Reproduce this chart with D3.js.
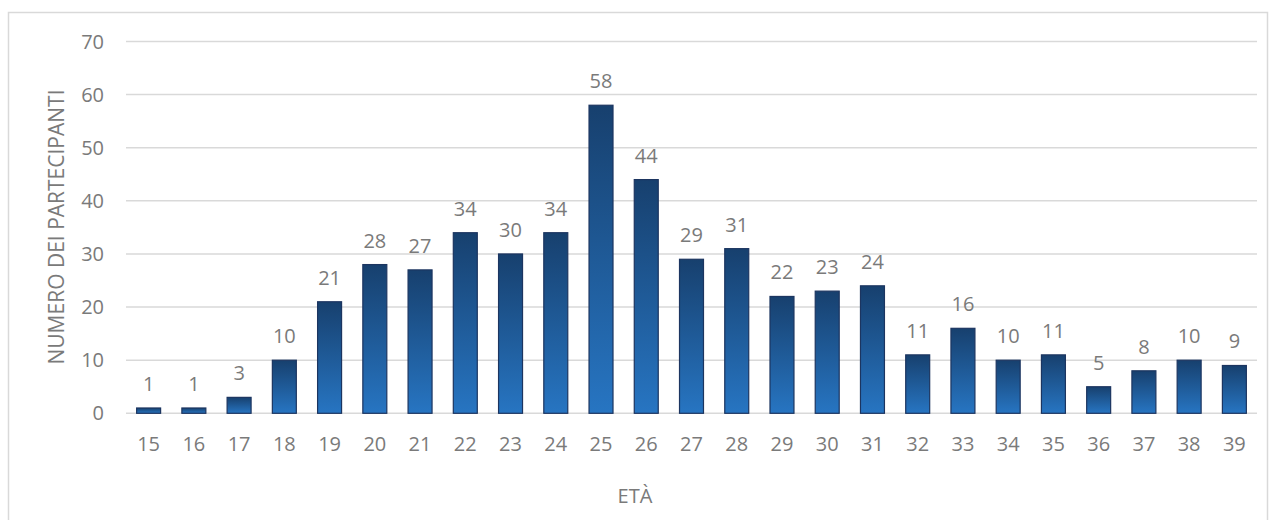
<!DOCTYPE html>
<html>
<head>
<meta charset="utf-8">
<script src="https://cdn.jsdelivr.net/npm/d3@7"></script>
<style>
  body { margin: 0; background: #fff; }
  svg { display: block; font-family: "Open Sans", sans-serif; }
</style>
</head>
<body>
<svg id="chart" width="1276" height="520"></svg>
<script>
// data
const ages = ['15','16','17','18','19','20','21','22','23','24','25','26','27','28','29','30','31','32','33','34','35','36','37','38','39'];
const counts = [1,1,3,10,21,28,27,34,30,34,58,44,29,31,22,23,24,11,16,10,11,5,8,10,9];
const yTicks = [0,10,20,30,40,50,60,70];

const svg = d3.select('#chart');
const textColor = '#7a7a7a';
const gridColor = '#d9d9d9';

// chart frame
svg.append('rect')
  .attr('x', 8.5).attr('y', 12.5).attr('width', 1259).attr('height', 520)
  .style('fill', 'none').style('stroke', gridColor).style('stroke-width', 1.5);

const plot = { left: 126, right: 1257, top: 41.5, bottom: 413.3 };

const x = d3.scaleBand().domain(ages).range([plot.left, plot.right]).paddingInner(0.47).paddingOuter(0.235);
const y = d3.scaleLinear().domain([0, 70]).range([plot.bottom, plot.top]);

// gradient for the bars
const defs = svg.append('defs');
const grad = defs.append('linearGradient').attr('id', 'barGrad')
  .attr('x1', 0).attr('y1', 0).attr('x2', 0).attr('y2', 1);
grad.append('stop').attr('offset', '0%').attr('stop-color', '#17406e');
grad.append('stop').attr('offset', '100%').attr('stop-color', '#2775c2');

// gridlines
svg.append('g').selectAll('line').data(yTicks).join('line')
  .attr('x1', plot.left).attr('x2', plot.right)
  .attr('y1', d => y(d)).attr('y2', d => y(d))
  .style('stroke', gridColor).style('stroke-width', 1.5);

// y axis labels
svg.append('g').selectAll('text').data(yTicks).join('text')
  .attr('x', 104).attr('y', d => y(d)).attr('dy', '0.35em')
  .attr('text-anchor', 'end')
  .style('font-size', '20px').style('fill', textColor)
  .text(d => d);

// bars
svg.append('g').selectAll('rect').data(counts).join('rect')
  .attr('x', (d, i) => x(ages[i]))
  .attr('y', d => y(d))
  .attr('width', x.bandwidth())
  .attr('height', d => y(0) - y(d))
  .style('fill', 'url(#barGrad)')
  .style('stroke', '#1c3560').style('stroke-width', 1.2);

// value labels
svg.append('g').selectAll('text').data(counts).join('text')
  .attr('x', (d, i) => x(ages[i]) + x.bandwidth() / 2)
  .attr('y', d => y(d) - 17)
  .attr('text-anchor', 'middle')
  .style('font-size', '20px').style('fill', textColor)
  .text(d => d);

// x axis labels
svg.append('g').selectAll('text').data(ages).join('text')
  .attr('x', d => x(d) + x.bandwidth() / 2)
  .attr('y', 451)
  .attr('text-anchor', 'middle')
  .style('font-size', '20px').style('fill', textColor)
  .text(d => d);

// axis titles
svg.append('text')
  .attr('x', 635).attr('y', 503)
  .attr('text-anchor', 'middle')
  .style('font-size', '20px').style('fill', textColor)
  .text('ETÀ');

svg.append('text')
  .attr('transform', 'translate(64,227) rotate(-90)')
  .attr('text-anchor', 'middle')
  .style('font-size', '21px').style('fill', textColor)
  .text('NUMERO DEI PARTECIPANTI');
</script>
</body>
</html>
